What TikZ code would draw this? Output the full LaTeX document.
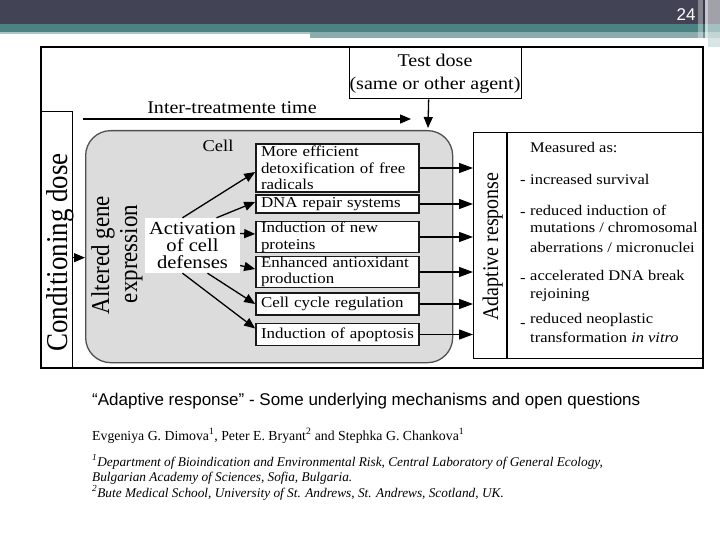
\documentclass[tikz,border=0pt]{standalone}
\usepackage{fontspec}
\setmainfont{Liberation Serif}
\newfontfamily\dgm[FakeStretch=1.12]{Liberation Serif}
\newfontfamily\ttlsans{Liberation Sans}
\usetikzlibrary{arrows.meta}
\newcommand\myfs[2]{\fontsize{#1}{#2}\selectfont}
\definecolor{hdrdark}{HTML}{434356}
\definecolor{hdrteal}{HTML}{4B8282}
\definecolor{hdrpale}{HTML}{A9C5C5}
\definecolor{hdrband}{HTML}{8AACAC}
\definecolor{cellfill}{HTML}{DCDCDC}
\definecolor{cellline}{HTML}{505050}
\begin{document}
\begin{tikzpicture}[x=1pt,y=-1pt,
  arr/.style={line width=1.3pt, -{Triangle[length=11pt,width=9pt]}},
  bigarr/.style={line width=1.3pt, -{Triangle[length=14pt,width=10pt]}},
  mechbox/.style={draw=black!90, line width=1.6pt, fill=white, minimum width=163pt,
    text width=153pt, inner xsep=5pt, inner ysep=0pt, align=left,
    font=\dgm\myfs{15.1}{16.7}},
  htxt/.style={inner sep=0pt, anchor=base, font=\dgm\myfs{17.9}{20}},
  rtxt/.style={inner sep=0pt, anchor=base west, font=\dgm\myfs{14.7}{17}},
  vtxt/.style={inner sep=0pt, anchor=base, xscale=1.12, rotate=90},
  plainbox/.style={draw=black, line width=1.3pt, inner sep=0pt, anchor=north west},
]
\useasboundingbox (0,0) rectangle (720,540);
\fill[white] (0,0) rectangle (720,540);
% header
\fill[hdrdark] (0,0) rectangle (720,24);
\fill[hdrteal] (0,24) rectangle (720,32);
\fill[hdrpale] (0,32) rectangle (310,34.5);
\fill[hdrband] (310,32) rectangle (720,38);
\fill[hdrpale!45] (708,38) rectangle (720,47);
\fill[white,opacity=0.35] (698,0) rectangle (703,38);
\fill[black,opacity=0.15] (703,0) rectangle (705,38);
\fill[white,opacity=0.7] (705,0) rectangle (708,38);
\fill[white,opacity=0.5] (708,0) rectangle (720,38);
\node[inner sep=0pt, anchor=base, text=white, font=\ttlsans\myfs{17}{20}] (pg) at (686,21) {24};

% outer frame
\draw[line width=2pt] (41,47) rectangle (703,368);

% conditioning dose strip
\node[plainbox, minimum width=31pt, minimum height=257pt] (cond) at (41,111) {};
\node[vtxt, font=\myfs{27}{30}] (condtxt) at (67,252.5) {Conditioning dose};

% test dose
\node[plainbox, fill=white, minimum width=172pt, minimum height=51pt] (td) at (349,47) {};
\node[htxt] (tdtxt1) at (435,67) {Test dose};
\node[htxt] (tdtxt2) at (435,90) {(same or other agent)};

% inter-treatment arrow
\coordinate (itS) at (83,119);
\coordinate (itE) at (411,119);
\draw[arr] (itS) -- (itE);
\node[htxt] (ittxt) at (232,113.5) {Inter-treatmente time};
\coordinate (tdE) at (428,128);
\draw[arr] ([xshift=-7pt]td.south) -- (tdE);

% cell
\node[draw=cellline, fill=cellfill, line width=1.3pt, rounded corners=25pt,
  minimum width=367pt, minimum height=232pt, inner sep=0pt, anchor=north west] (cell) at (85,130) {};
\node[inner sep=0pt, anchor=base, font=\dgm\myfs{16.5}{18}] (celltxt) at (218,152) {Cell};
\draw[arr] ([yshift=-17.5pt]cond.east) -- ([yshift=-11pt]cell.west);

\node[vtxt, font=\myfs{23}{27}] (agl1) at (109,255) {Altered gene};
\node[vtxt, font=\myfs{23}{27}] (agl2) at (137,254) {expression};

\node[fill=white, minimum width=95pt, minimum height=55pt, inner sep=0pt, align=center,
  font=\dgm\myfs{18.4}{16.7}] (act) at (192.5,245.5) {Activation\\of cell\\defenses};

% mechanism boxes
\node[mechbox, minimum height=48pt] (b1) at (337.5,168) {More efficient\\detoxification of free\\radicals};
\node[mechbox, minimum height=18pt] (b2) at (337.5,204) {DNA repair systems};
\node[mechbox, minimum height=31pt] (b3) at (337.5,237) {Induction of new\\proteins};
\node[mechbox, minimum height=31pt] (b4) at (337.5,272) {Enhanced antioxidant\\production};
\node[mechbox, minimum height=22pt] (b5) at (337.5,304) {Cell cycle regulation};
\node[mechbox, minimum height=22pt] (b6) at (337.5,334.5) {Induction of apoptosis};

\draw[arr] ([xshift=-10pt]act.north) -- ([yshift=-4pt]b1.west);
\draw[arr] ([xshift=24pt]act.north) -- ([yshift=2pt]b2.west);
\draw[arr] ([yshift=12pt]act.east) -- ([yshift=3pt]b3.west);
\draw[arr] ([yshift=-20pt]act.east) -- ([yshift=3pt]b4.west);
\draw[arr] ([xshift=15pt]act.south) -- (b5.west);
\draw[arr] ([xshift=-10pt]act.south) -- ([yshift=6pt]b6.west);

% adaptive response box
\node[plainbox, minimum width=230pt, minimum height=226pt] (adapt) at (473,132) {};
\draw[line width=1.3pt] ([xshift=34pt]adapt.north west) -- ([xshift=34pt]adapt.south west);
\node[vtxt, font=\myfs{20}{22}] (adtxt) at (498,246.5) {Adaptive response};

\foreach \b in {b1,b2,b3,b4,b5,b6}
  \draw[bigarr] (\b.east) -- (\b.east -| adapt.west);

% measured as
\node[rtxt] (m0) at (530,153) {Measured as:};
\node[rtxt] (d1) at (520,185) {-};
\node[rtxt] (m1) at (530,185) {increased survival};
\node[rtxt] (d2) at (520,216.5) {-};
\node[rtxt] (m2a) at (530,215) {reduced induction of};
\node[rtxt] (m2b) at (530,233) {mutations / chromosomal};
\node[rtxt] (m2c) at (530,252) {aberrations / micronuclei};
\node[rtxt] (d3) at (520,282.5) {-};
\node[rtxt] (m3a) at (530,280) {accelerated DNA break};
\node[rtxt] (m3b) at (530,298) {rejoining};
\node[rtxt] (d4) at (520,327) {-};
\node[rtxt] (m4a) at (530,323) {reduced neoplastic};
\node[rtxt] (m4b) at (530,342) {transformation \textit{in vitro}};

% caption text
\node[inner sep=0pt, anchor=base west, font=\ttlsans\myfs{17}{20}] (ttl) at (92,405)
  {“Adaptive response” - Some underlying mechanisms and open questions};
\node[inner sep=0pt, anchor=base west, font=\myfs{13.8}{16}] (auth) at (92,440)
  {Evgeniya G. Dimova\textsuperscript{1}, Peter E. Bryant\textsuperscript{2} and Stephka G. Chankova\textsuperscript{1}};
\node[inner sep=0pt, anchor=base west, font=\itshape\myfs{13.3}{16}] (af1) at (92,466)
  {\textsuperscript{1}Department of Bioindication and Environmental Risk, Central Laboratory of General Ecology,};
\node[inner sep=0pt, anchor=base west, font=\itshape\myfs{13.3}{16}] (af2) at (92,481.5)
  {Bulgarian Academy of Sciences, Sofia, Bulgaria.};
\node[inner sep=0pt, anchor=base west, font=\itshape\myfs{13.3}{16}] (af3) at (92,497)
  {\textsuperscript{2}Bute Medical School, University of St. Andrews, St. Andrews, Scotland, UK.};
\end{tikzpicture}
\end{document}
